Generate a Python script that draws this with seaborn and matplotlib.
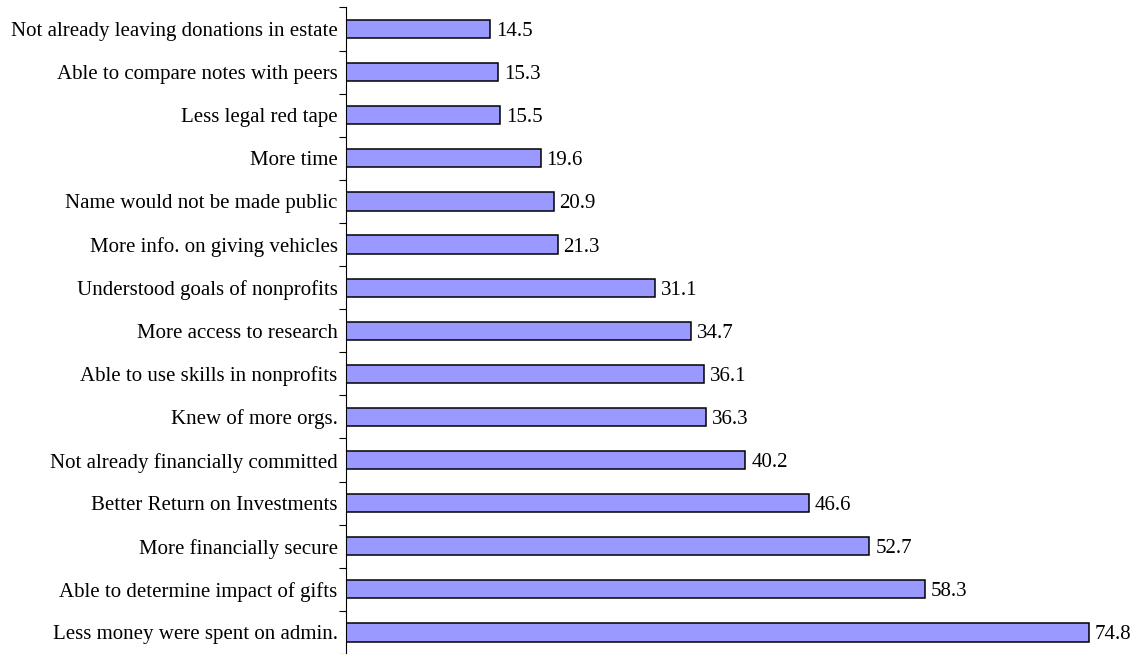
import pandas as pd
import numpy as np
import seaborn as sns
import matplotlib.pyplot as plt
from matplotlib.ticker import FixedLocator

categories = [
    "Not already leaving donations in estate",
    "Able to compare notes with peers",
    "Less legal red tape",
    "More time",
    "Name would not be made public",
    "More info. on giving vehicles",
    "Understood goals of nonprofits",
    "More access to research",
    "Able to use skills in nonprofits",
    "Knew of more orgs.",
    "Not already financially committed",
    "Better Return on Investments",
    "More financially secure",
    "Able to determine impact of gifts",
    "Less money were spent on admin.",
]
values = [14.5, 15.3, 15.5, 19.6, 20.9, 21.3, 31.1, 34.7, 36.1, 36.3,
          40.2, 46.6, 52.7, 58.3, 74.8]

df = pd.DataFrame({'Reason': categories, 'Percent': values})

sns.set_style('white')
plt.rcParams['font.family'] = ['Liberation Serif', 'DejaVu Serif']
plt.rcParams['text.color'] = 'black'
plt.rcParams['ytick.color'] = 'black'
plt.rcParams['ytick.labelcolor'] = 'black'

W, H = 1136, 654
fig = plt.figure(figsize=(W / 100, H / 100), dpi=100)
ax = fig.add_axes([346 / W, 0, 1 - 346 / W, (654 - 7.5) / H])

sns.barplot(data=df, x='Percent', y='Reason', orient='h', color='#9999FF',
            saturation=1, edgecolor='black', linewidth=1.1, width=0.42, ax=ax)

for i, v in enumerate(values):
    ax.text(v + 0.6, i, '{:.1f}'.format(v), va='center_baseline', ha='left',
            fontsize=15, color='black')

ax.set_xlim(0, (W - 346) / 9.93)
ax.set_ylim(len(categories) - 0.5, -0.5)
ax.set_xlabel('')
ax.set_ylabel('')
ax.set_xticks([])

for s in ['top', 'right', 'bottom']:
    ax.spines[s].set_visible(False)
ax.spines['left'].set_color('black')
ax.spines['left'].set_linewidth(0.8)

ax.yaxis.set_minor_locator(FixedLocator(np.arange(-0.5, len(categories), 1.0)))
ax.tick_params(axis='y', which='major', length=0, pad=6, labelsize=15)
ax.tick_params(axis='y', which='minor', length=5, width=0.8, color='black',
               direction='out', left=True)

plt.savefig('out.png', dpi=100)
